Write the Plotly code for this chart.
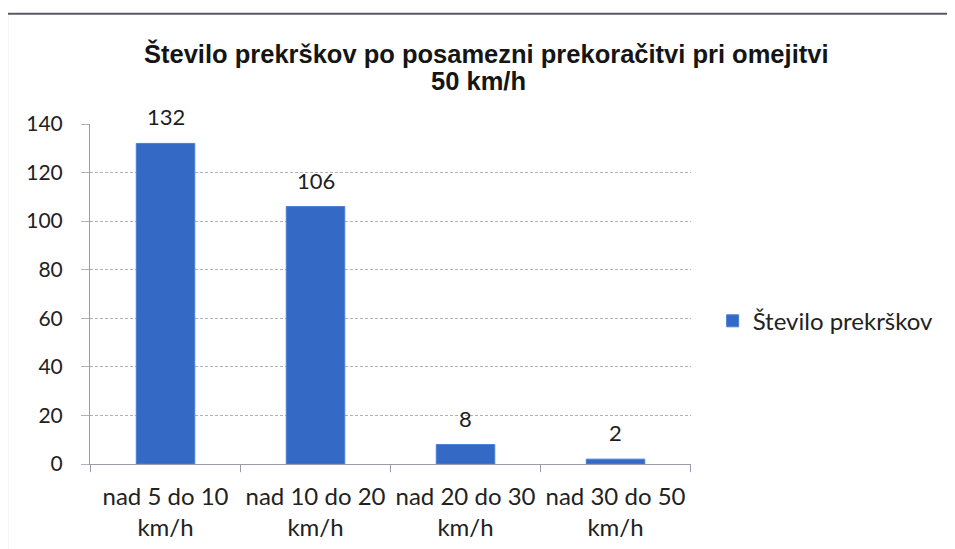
import plotly.graph_objects as go

# Podatki
kategorije = ["nad 5 do 10<br>km/h", "nad 10 do 20<br>km/h", "nad 20 do 30<br>km/h", "nad 30 do 50<br>km/h"]
stevilo_prekrskov = [132, 106, 8, 2]
y_oznake = [0, 20, 40, 60, 80, 100, 120, 140]
naslov_1 = "Število prekrškov po posamezni prekoračitvi pri omejitvi"
naslov_2 = "50 km/h"

fig = go.Figure()
fig.add_trace(go.Bar(
    x=kategorije,
    y=stevilo_prekrskov,
    name="Število prekrškov",
    marker=dict(color="#346ac6", line=dict(color="#4a7fd6", width=1)),
    width=0.39,
))

# Oznake vrednosti nad stolpci
for k, v in zip(kategorije, stevilo_prekrskov):
    fig.add_annotation(x=k, y=v, text=str(v), showarrow=False,
                       yanchor="bottom", yshift=11,
                       font=dict(family="Lato", size=22, color="#1e1e1e"))

# Naslov v dveh vrsticah (tesnejši razmik)
fig.add_annotation(xref="paper", yref="paper", x=0.659, y=1.206, text="<b>" + naslov_1 + "</b>",
                   showarrow=False, xanchor="center", yanchor="middle",
                   font=dict(family="Liberation Sans", size=25.5, color="#151515"))
fig.add_annotation(xref="paper", yref="paper", x=0.646, y=1.126, text="<b>" + naslov_2 + "</b>",
                   showarrow=False, xanchor="center", yanchor="middle",
                   font=dict(family="Liberation Sans", size=25.5, color="#151515"))

fig.update_layout(
    width=955, height=549,
    paper_bgcolor="white", plot_bgcolor="white",
    margin=dict(l=82, r=272, t=116, b=93),
    showlegend=True,
    legend=dict(
        x=1.036, y=0.42, xanchor="left", yanchor="middle",
        font=dict(family="Lato", size=24, color="#222222"),
        itemwidth=30,
    ),
)

fig.update_xaxes(
    automargin=False,
    showgrid=False,
    showline=True, linecolor="#9a9aa8", linewidth=1,
    ticks="", ticklabelstandoff=11,
    tickfont=dict(family="Lato", size=24, color="#222222"),
)
fig.update_yaxes(
    automargin=False,
    range=[0, 140],
    tickvals=y_oznake,
    showgrid=True, gridcolor="#b0b0c0", gridwidth=1, griddash="3px,2px",
    showline=True, linecolor="#9a9aa8", linewidth=1,
    ticks="outside", ticklen=8, tickcolor="#b0b0c0",
    ticklabelstandoff=14,
    tickfont=dict(family="Lato", size=21, color="#222222"),
    zeroline=False,
)

# Ločilne črtice med kategorijami na osi x
for i in range(5):
    fig.add_shape(type="line", xref="x", yref="paper",
                  x0=i - 0.5, x1=i - 0.5, y0=0, y1=-0.024,
                  line=dict(color="#9a9aa8", width=1))

# Okvir grafikona (levi in zgornji rob, desni in spodnji sta v skenu skoraj nevidna)
fig.add_shape(type="rect", xref="paper", yref="paper",
              x0=-0.138, x1=1.445, y0=-0.28, y1=1.3245,
              line=dict(color="#5a5a66", width=2), layer="below")

fig.write_html("out.html")
